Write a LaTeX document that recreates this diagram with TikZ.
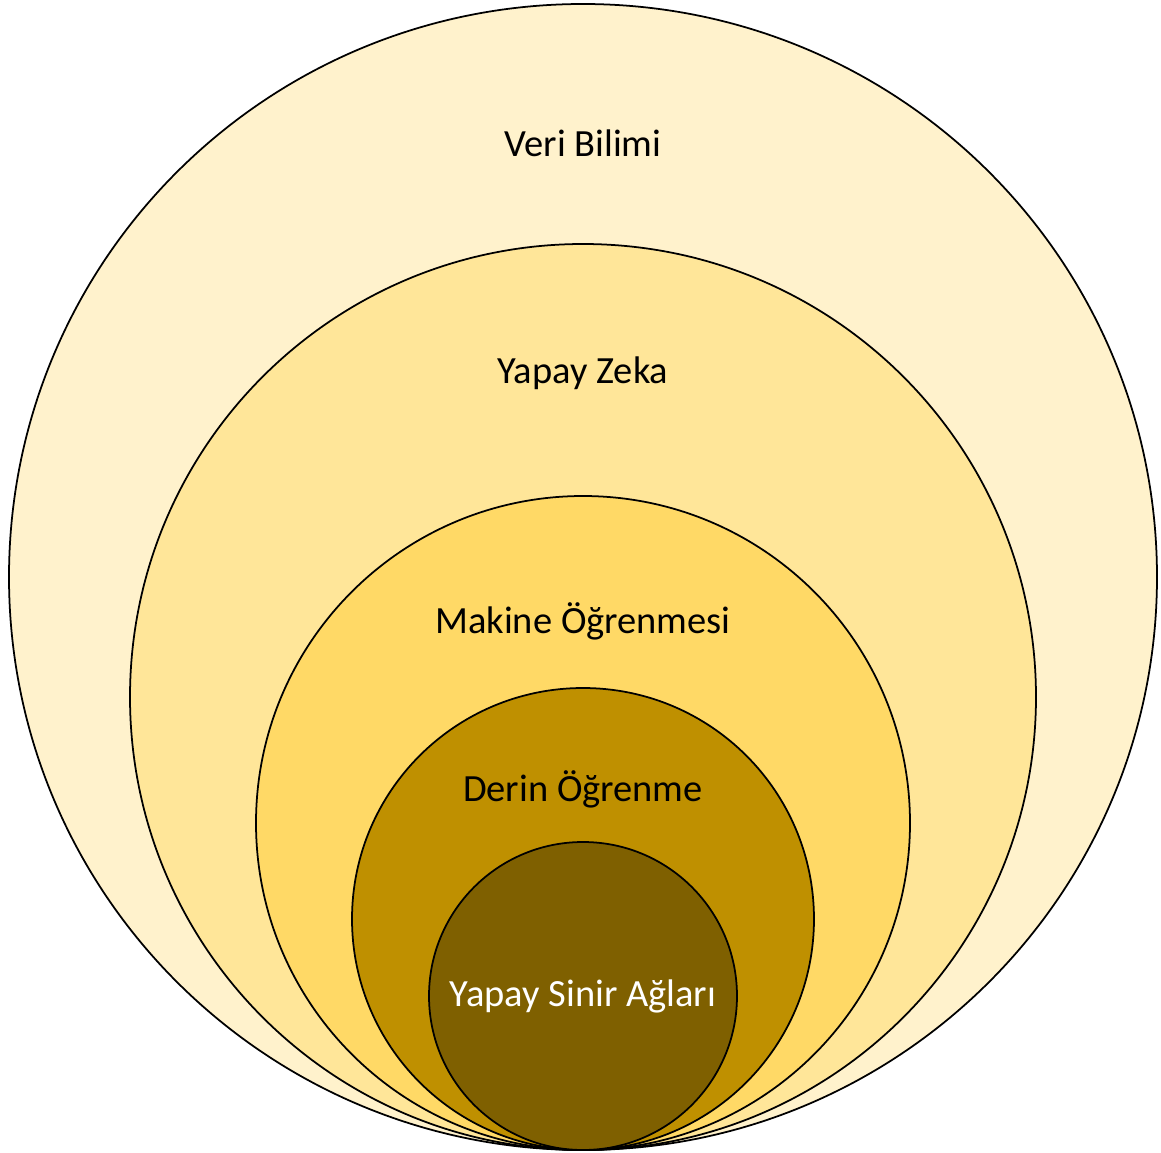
\documentclass[tikz,border=0pt]{standalone}
\usepackage{fontspec}
\setmainfont{Carlito}
\usepackage{tikz}

\definecolor{veri}{HTML}{FFF2CC}
\definecolor{zeka}{HTML}{FFE699}
\definecolor{makine}{HTML}{FFD966}
\definecolor{derin}{HTML}{BF9000}
\definecolor{sinir}{HTML}{7F6000}

\begin{document}
\begin{tikzpicture}[
  x=0.02cm, y=-0.02cm,
  ring/.style={draw=black, line width=1pt},
  lbl/.style={font=\fontsize{21.9}{26}\selectfont, text=black, inner sep=0pt}
]
  \useasboundingbox (0,0) rectangle (1161,1153);

  % Nested sets, all touching at the bottom
  \filldraw[ring, fill=veri]   (583,577) ellipse [x radius=574, y radius=573];
  \filldraw[ring, fill=zeka]   (583,697) ellipse [x radius=453, y radius=453];
  \filldraw[ring, fill=makine] (583,823) ellipse [x radius=327, y radius=327];
  \filldraw[ring, fill=derin]  (583,919) ellipse [x radius=231, y radius=231];
  \filldraw[ring, fill=sinir]  (583,996) ellipse [x radius=154, y radius=154];

  % Labels
  \node[lbl] (veribilimi) at (583,143) {Veri Bilimi};
  \node[lbl] (yapayzeka)  at (583,373) {Yapay Zeka};
  \node[lbl] (makine)     at (583,621) {Makine Öğrenmesi};
  \node[lbl] (derin)      at (583,789) {Derin Öğrenme};
  \node[lbl, text=white] (sinir) at (583,996) {Yapay Sinir Ağları};
\end{tikzpicture}
\end{document}
